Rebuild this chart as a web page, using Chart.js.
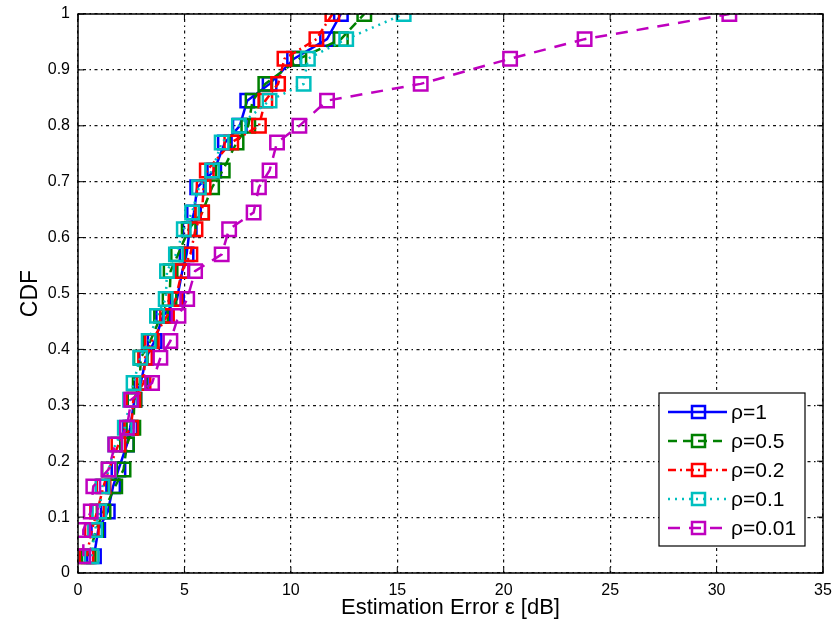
<!DOCTYPE html>
<html>
<head>
<meta charset="utf-8">
<script src="https://cdn.jsdelivr.net/npm/chart.js@4"></script>
<style>
  body { margin: 0; background: #fff; }
  #wrap { width: 835px; height: 630px; }
</style>
</head>
<body>
<div id="wrap"><canvas id="cdfChart" width="835" height="630"></canvas></div>
<script>
// CDF levels shared by every curve
var cdfLevels = [0.03, 0.077, 0.11, 0.155, 0.185, 0.23, 0.26, 0.31, 0.34, 0.385, 0.415, 0.46, 0.49,
    0.54, 0.57, 0.615, 0.645, 0.69, 0.72, 0.77, 0.80, 0.845, 0.875, 0.92, 0.955, 1.0];

// estimation error [dB] per rho
var errRho1 = [0.75, 0.95, 1.4, 1.65, 1.9, 2.3, 2.45, 2.65, 2.95, 3.2, 3.6, 4.0, 4.65,
    4.9, 5.1, 5.25, 5.45, 5.6, 6.4, 6.9, 7.6, 7.95, 9.0, 10.15, 11.7, 12.35];
var errRho05 = [0.5, 0.85, 1.2, 1.75, 2.14, 2.3, 2.6, 2.65, 2.9, 2.95, 3.4, 3.9, 4.3,
    4.35, 4.7, 5.2, 5.83, 6.3, 6.8, 7.45, 8.0, 8.2, 8.8, 10.4, 12.35, 13.45];
var errRho02 = [0.4, 0.65, 0.9, 1.2, 1.45, 1.9, 2.5, 2.6, 3.08, 3.15, 3.47, 4.18, 4.58,
    4.89, 5.28, 5.52, 5.83, 5.9, 6.05, 7.2, 8.5, 8.8, 9.4, 9.7, 11.2, 11.95];
var errRho01 = [0.64, 0.8, 1.0, 1.15, 1.45, 1.75, 2.2, 2.45, 2.61, 2.92, 3.32, 3.71, 4.12,
    4.18, 4.6, 4.97, 5.36, 5.68, 6.3, 6.75, 7.56, 9.0, 10.6, 10.8, 12.6, 15.3];
var errRho001 = [0.25, 0.25, 0.6, 0.72, 1.43, 1.75, 2.3, 2.5, 3.48, 3.87, 4.34, 4.72, 5.13,
    5.5, 6.75, 7.1, 8.25, 8.5, 9.0, 9.35, 10.4, 11.7, 16.1, 20.3, 23.8, 30.6];

var xTicks = [0, 5, 10, 15, 20, 25, 30, 35];
var yTicks = [0, 0.1, 0.2, 0.3, 0.4, 0.5, 0.6, 0.7, 0.8, 0.9, 1];

var FONT = '"Liberation Sans", Arial, sans-serif';

function toPoints(errs) {
    return errs.map(function (e, i) { return { x: e, y: cdfLevels[i] }; });
}

function series(label, errs, color, dash, order) {
    return {
        label: label,
        data: toPoints(errs),
        borderColor: color,
        backgroundColor: color,
        borderWidth: 2.5,
        borderDash: dash,
        pointStyle: 'rect',
        pointRadius: 9.5,
        pointHoverRadius: 9.5,
        pointBorderWidth: 2.5,
        pointBorderColor: color,
        pointBackgroundColor: 'rgba(0,0,0,0)',
        tension: 0,
        order: order
    };
}

// box, inward ticks and legend drawn MATLAB-style
var matlabFrame = {
    id: 'matlabFrame',
    afterDraw: function (chart) {
        var ctx = chart.ctx, a = chart.chartArea;
        var xs = chart.scales.x, ys = chart.scales.y;
        ctx.save();
        ctx.strokeStyle = '#000';
        ctx.lineWidth = 1.5;
        ctx.setLineDash([]);
        ctx.strokeRect(a.left, a.top, a.right - a.left, a.bottom - a.top);
        ctx.lineWidth = 1;
        xTicks.forEach(function (v) {
            var px = xs.getPixelForValue(v);
            ctx.beginPath();
            ctx.moveTo(px, a.bottom); ctx.lineTo(px, a.bottom - 6);
            ctx.moveTo(px, a.top); ctx.lineTo(px, a.top + 6);
            ctx.stroke();
        });
        yTicks.forEach(function (v) {
            var py = ys.getPixelForValue(v);
            ctx.beginPath();
            ctx.moveTo(a.left, py); ctx.lineTo(a.left + 6, py);
            ctx.moveTo(a.right, py); ctx.lineTo(a.right - 6, py);
            ctx.stroke();
        });

        // legend box
        var bw = 146, bh = 153;
        var bx = a.right - 18 - bw, by = a.bottom - 27 - bh;
        ctx.fillStyle = '#fff';
        ctx.fillRect(bx, by, bw, bh);
        ctx.strokeStyle = '#000';
        ctx.lineWidth = 1.2;
        ctx.strokeRect(bx, by, bw, bh);
        ctx.font = '21px ' + FONT;
        ctx.textBaseline = 'middle';
        ctx.textAlign = 'left';
        chart.data.datasets.forEach(function (ds, i) {
            var cy = by + 19 + i * 29;
            ctx.strokeStyle = ds.borderColor;
            ctx.lineWidth = 2.5;
            ctx.setLineDash(ds.borderDash);
            ctx.beginPath();
            ctx.moveTo(bx + 9, cy); ctx.lineTo(bx + 68, cy);
            ctx.stroke();
            ctx.setLineDash([]);
            ctx.strokeRect(bx + 33, cy - 6, 13, 12);
            ctx.fillStyle = '#000';
            ctx.fillText(ds.label, bx + 72, cy + 1);
        });
        ctx.restore();
    }
};

var ctx = document.getElementById('cdfChart').getContext('2d');
new Chart(ctx, {
    type: 'line',
    data: {
        datasets: [
            series('ρ=1', errRho1, '#0000ff', [], 5),
            series('ρ=0.5', errRho05, '#008000', [9, 6], 4),
            series('ρ=0.2', errRho02, '#ff0000', [8, 4, 2, 4], 3),
            series('ρ=0.1', errRho01, '#00bfbf', [2, 5], 2),
            series('ρ=0.01', errRho001, '#bf00bf', [12, 9], 1)
        ]
    },
    options: {
        responsive: false,
        animation: false,
        events: [],
        layout: { padding: { top: 14, right: 11, left: 0, bottom: 0 } },
        plugins: {
            legend: { display: false },
            tooltip: { enabled: false }
        },
        scales: {
            x: {
                type: 'linear',
                min: 0,
                max: 35,
                afterBuildTicks: function (axis) {
                    axis.ticks = xTicks.map(function (v) { return { value: v }; });
                },
                border: { display: false, dash: [1.5, 3.5, 3, 3.5] },
                grid: { color: '#111', lineWidth: 1.2, drawTicks: false },
                ticks: {
                    color: '#000',
                    padding: 8,
                    maxRotation: 0,
                    font: { family: FONT, size: 16 }
                },
                title: {
                    display: true,
                    text: 'Estimation Error ε [dB]',
                    color: '#000',
                    padding: { top: 0, bottom: 9 },
                    font: { family: FONT, size: 22 }
                },
                afterFit: function (axis) {
                    axis.height = 57;
                    axis.paddingLeft = 0;
                    axis.paddingRight = 0;
                }
            },
            y: {
                type: 'linear',
                min: 0,
                max: 1,
                afterBuildTicks: function (axis) {
                    axis.ticks = yTicks.map(function (v) { return { value: v }; });
                },
                border: { display: false, dash: [1.5, 3.5, 3, 3.5] },
                grid: { color: '#111', lineWidth: 1.2, drawTicks: false },
                ticks: {
                    color: '#000',
                    padding: 8,
                    font: { family: FONT, size: 16 },
                    callback: function (v) { return String(Math.round(v * 10) / 10); }
                },
                title: {
                    display: true,
                    text: 'CDF',
                    color: '#000',
                    padding: { top: 17, bottom: 0 },
                    font: { family: FONT, size: 23 }
                },
                afterFit: function (axis) {
                    axis.width = 78;
                    axis.paddingTop = 0;
                    axis.paddingBottom = 0;
                }
            }
        }
    },
    plugins: [matlabFrame]
});
</script>
</body>
</html>
